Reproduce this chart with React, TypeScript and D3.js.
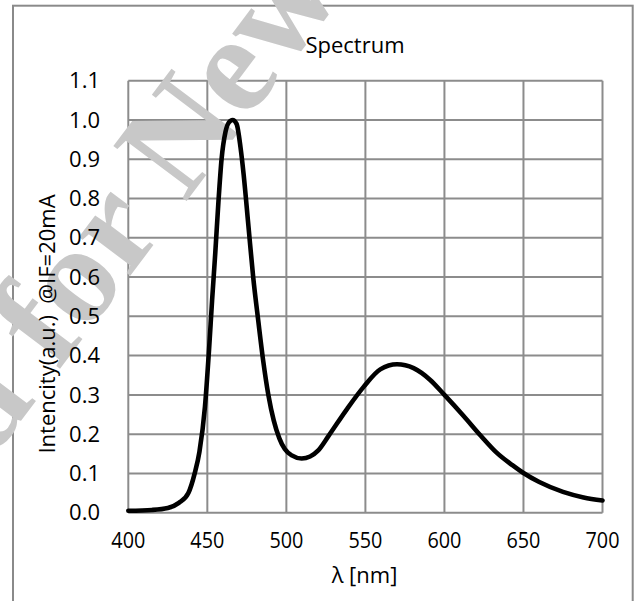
import React, { useEffect, useRef } from "react";
import * as d3 from "d3";

const wavelengths = [400, 415, 425, 432, 438, 442, 445, 448.5, 451, 453, 455, 457, 459, 461.5, 463.5, 466, 468.5, 471, 473, 476, 479, 482.3, 485.4, 488.6, 492, 495.5, 499, 503.4, 509.7, 515, 520, 526.6, 538, 549, 559.4, 570, 580.5, 591, 600, 612, 623, 633, 643, 650, 660, 675, 688, 700];
const intensities = [0.005, 0.007, 0.012, 0.025, 0.05, 0.1, 0.155, 0.27, 0.41, 0.54, 0.66, 0.79, 0.9, 0.97, 0.993, 1.0, 0.99, 0.93, 0.86, 0.73, 0.6, 0.486, 0.385, 0.3, 0.235, 0.19, 0.162, 0.146, 0.138, 0.143, 0.158, 0.195, 0.262, 0.321, 0.365, 0.378, 0.368, 0.338, 0.3, 0.247, 0.196, 0.153, 0.121, 0.101, 0.078, 0.053, 0.039, 0.031];
const xTicks = [400, 450, 500, 550, 600, 650, 700];
const yTicks = [0, 0.1, 0.2, 0.3, 0.4, 0.5, 0.6, 0.7, 0.8, 0.9, 1.0, 1.1];
const titleText = "Spectrum";
const xLabel = "λ [nm]";
const yLabel = "Intencity(a.u.)  @IF=20mA";
const watermark = "d for New";

export default function App() {
  const ref = useRef<SVGSVGElement | null>(null);
  useEffect(() => {
    const svg = d3.select(ref.current);
    svg.selectAll("*").remove();
    const W = 635, H = 601;
    const left = 128.3, right = 602.5, top = 80.7, bottom = 512.7;
    const x = d3.scaleLinear().domain([400, 700]).range([left, right]);
    const y = d3.scaleLinear().domain([0, 1.1]).range([bottom, top]);
    const font = "'Open Sans', 'Noto Sans', sans-serif";

    svg.append("rect").attr("width", W).attr("height", H).attr("fill", "#fff");
    svg.append("rect").attr("x", 13).attr("y", 5.7).attr("width", 619.7).attr("height", 620)
      .attr("fill", "none").attr("stroke", "#8a8a8a").attr("stroke-width", 2);

    const grid = svg.append("g").attr("stroke", "#8c8c8c").attr("stroke-width", 2);
    xTicks.forEach(t => grid.append("line").attr("x1", x(t)).attr("x2", x(t)).attr("y1", top).attr("y2", bottom));
    yTicks.forEach(t => grid.append("line").attr("x1", left).attr("x2", right).attr("y1", y(t)).attr("y2", y(t)));

    // watermark
    svg.append("text").attr("transform", "translate(167,227) rotate(-53)")
      .attr("text-anchor", "middle").attr("font-family", "'Liberation Serif', serif")
      .attr("font-weight", "bold").attr("font-size", 140).attr("fill", "#c8c8c8").text(watermark);

    const pts = wavelengths.map((w, i) => [w, intensities[i]] as [number, number]);
    const line = d3.line<[number, number]>().x(d => x(d[0])).y(d => y(d[1])).curve(d3.curveMonotoneX);
    svg.append("path").attr("d", line(pts) as string).attr("fill", "none").attr("stroke", "#000")
      .attr("stroke-width", 4.6).attr("stroke-linejoin", "round").attr("stroke-linecap", "round");

    yTicks.forEach(t => svg.append("text").attr("x", 100).attr("y", y(t)).attr("dy", "0.35em")
      .attr("text-anchor", "end").attr("font-family", font).attr("font-size", 22).attr("fill", "#000")
      .text(t.toFixed(1)));
    xTicks.forEach(t => svg.append("text").attr("transform", `translate(${x(t)},548) scale(0.9,1)`)
      .attr("text-anchor", "middle").attr("font-family", font).attr("font-size", 22).attr("fill", "#000")
      .text(String(t)));

    svg.append("text").attr("x", 355).attr("y", 53.3).attr("text-anchor", "middle")
      .attr("font-family", font).attr("font-size", 22).attr("fill", "#000").text(titleText);
    svg.append("text").attr("x", 364.5).attr("y", 583).attr("text-anchor", "middle")
      .attr("font-family", font).attr("font-size", 22).attr("fill", "#000").text(xLabel);
    svg.append("text").attr("transform", "translate(55,324) rotate(-90)").attr("text-anchor", "middle")
      .attr("font-family", font).attr("font-size", 22).attr("fill", "#000")
      .style("white-space", "pre").text(yLabel);
  }, []);
  return (
    <svg ref={ref} width={635} height={601} style={{ position: "absolute", left: 0, top: 0, display: "block" }} />
  );
}
